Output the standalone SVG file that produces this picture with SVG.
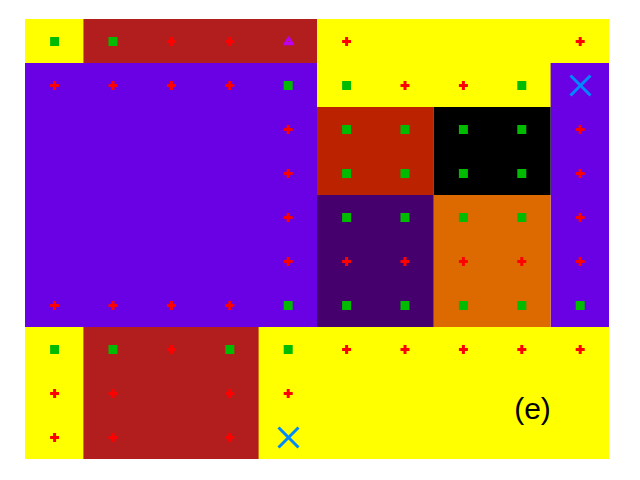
<svg xmlns="http://www.w3.org/2000/svg" xmlns:xlink="http://www.w3.org/1999/xlink" width="640" height="480" viewBox="0 0 640 480">
<style>
.yel{fill:#FFFF00}.drd{fill:#B21E1E}.pur{fill:#6A00E4}.org{fill:#BB2200}.blk{fill:#000000}.dpu{fill:#46006E}.orn{fill:#DD6A00}
.lbl{font-family:"Liberation Sans",Arial,sans-serif;font-size:30px;fill:#000}
</style>
<defs>
<rect id="sq" x="-4.5" y="-4.5" width="9" height="9" fill="#00BB00"/>
<path id="pl" d="M-4.5,-1.5h9v3h-9zM-1.5,-4.5h3v9h-3z" fill="#FF0000"/>
<g id="xx" stroke="#0088FF" stroke-width="3" stroke-linecap="butt"><line x1="-10" y1="-10" x2="10" y2="10"/><line x1="-10" y1="10" x2="10" y2="-10"/></g>
</defs>
<rect width="640" height="480" fill="#FFFFFF"/>
<g id="regions">
<rect class="yel" x="25" y="19" width="58.4" height="44"/>
<rect class="drd" x="83.4" y="19" width="233.6" height="44"/>
<rect class="yel" x="317" y="19" width="292" height="88"/>
<rect class="pur" x="25" y="63" width="292" height="264"/>
<rect class="pur" x="550.6" y="63" width="58.4" height="264"/>
<rect class="org" x="317" y="107" width="116.8" height="88"/>
<rect class="blk" x="433.8" y="107" width="116.8" height="88"/>
<rect class="dpu" x="317" y="195" width="116.8" height="132"/>
<rect class="orn" x="433.8" y="195" width="116.8" height="132"/>
<rect class="yel" x="25" y="327" width="584" height="132"/>
<rect class="drd" x="83.4" y="327" width="175.2" height="132"/>
</g>
<g id="markers" transform="translate(0.4,0.5)">
<use href="#sq" x="54.2" y="41"/><use href="#sq" x="112.6" y="41"/><use href="#pl" x="171" y="41"/><use href="#pl" x="229.4" y="41"/>
<polygon points="288.3,36.5 283.5,44 293.1,44" fill="#BB00EE" stroke="#BB00EE" stroke-width="1.5" stroke-linejoin="round"/>
<rect x="287.8" y="40.5" width="1" height="1" fill="#B21E1E"/>
<use href="#pl" x="346.2" y="41"/><use href="#pl" x="579.8" y="41"/>
<use href="#pl" x="54.2" y="85"/><use href="#pl" x="112.6" y="85"/><use href="#pl" x="171" y="85"/><use href="#pl" x="229.4" y="85"/><use href="#sq" x="287.8" y="85"/><use href="#sq" x="346.2" y="85"/><use href="#pl" x="404.6" y="85"/><use href="#pl" x="463" y="85"/><use href="#sq" x="521.4" y="85"/><use href="#xx" x="580.1" y="85"/>
<use href="#pl" x="287.8" y="129"/><use href="#sq" x="346.2" y="129"/><use href="#sq" x="404.6" y="129"/><use href="#sq" x="463" y="129"/><use href="#sq" x="521.4" y="129"/><use href="#pl" x="579.8" y="129"/>
<use href="#pl" x="287.8" y="173"/><use href="#sq" x="346.2" y="173"/><use href="#sq" x="404.6" y="173"/><use href="#sq" x="463" y="173"/><use href="#sq" x="521.4" y="173"/><use href="#pl" x="579.8" y="173"/>
<use href="#pl" x="287.8" y="217"/><use href="#sq" x="346.2" y="217"/><use href="#sq" x="404.6" y="217"/><use href="#sq" x="463" y="217"/><use href="#sq" x="521.4" y="217"/><use href="#pl" x="579.8" y="217"/>
<use href="#pl" x="287.8" y="261"/><use href="#pl" x="346.2" y="261"/><use href="#pl" x="404.6" y="261"/><use href="#pl" x="463" y="261"/><use href="#pl" x="521.4" y="261"/><use href="#pl" x="579.8" y="261"/>
<use href="#pl" x="54.2" y="305"/><use href="#pl" x="112.6" y="305"/><use href="#pl" x="171" y="305"/><use href="#pl" x="229.4" y="305"/><use href="#sq" x="287.8" y="305"/><use href="#sq" x="346.2" y="305"/><use href="#sq" x="404.6" y="305"/><use href="#sq" x="463" y="305"/><use href="#sq" x="521.4" y="305"/><use href="#sq" x="579.8" y="305"/>
<use href="#sq" x="54.2" y="349"/><use href="#sq" x="112.6" y="349"/><use href="#pl" x="171" y="349"/><use href="#sq" x="229.4" y="349"/><use href="#sq" x="287.8" y="349"/><use href="#pl" x="346.2" y="349"/><use href="#pl" x="404.6" y="349"/><use href="#pl" x="463" y="349"/><use href="#pl" x="521.4" y="349"/><use href="#pl" x="579.8" y="349"/>
<use href="#pl" x="54.2" y="393"/><use href="#pl" x="112.6" y="393"/><use href="#pl" x="229.4" y="393"/><use href="#pl" x="287.8" y="393"/>
<use href="#pl" x="54.2" y="437"/><use href="#pl" x="112.6" y="437"/><use href="#pl" x="229.4" y="437"/><use href="#xx" x="288.1" y="437"/>
</g>
<text class="lbl" x="532.5" y="419" text-anchor="middle">(e)</text>
</svg>
